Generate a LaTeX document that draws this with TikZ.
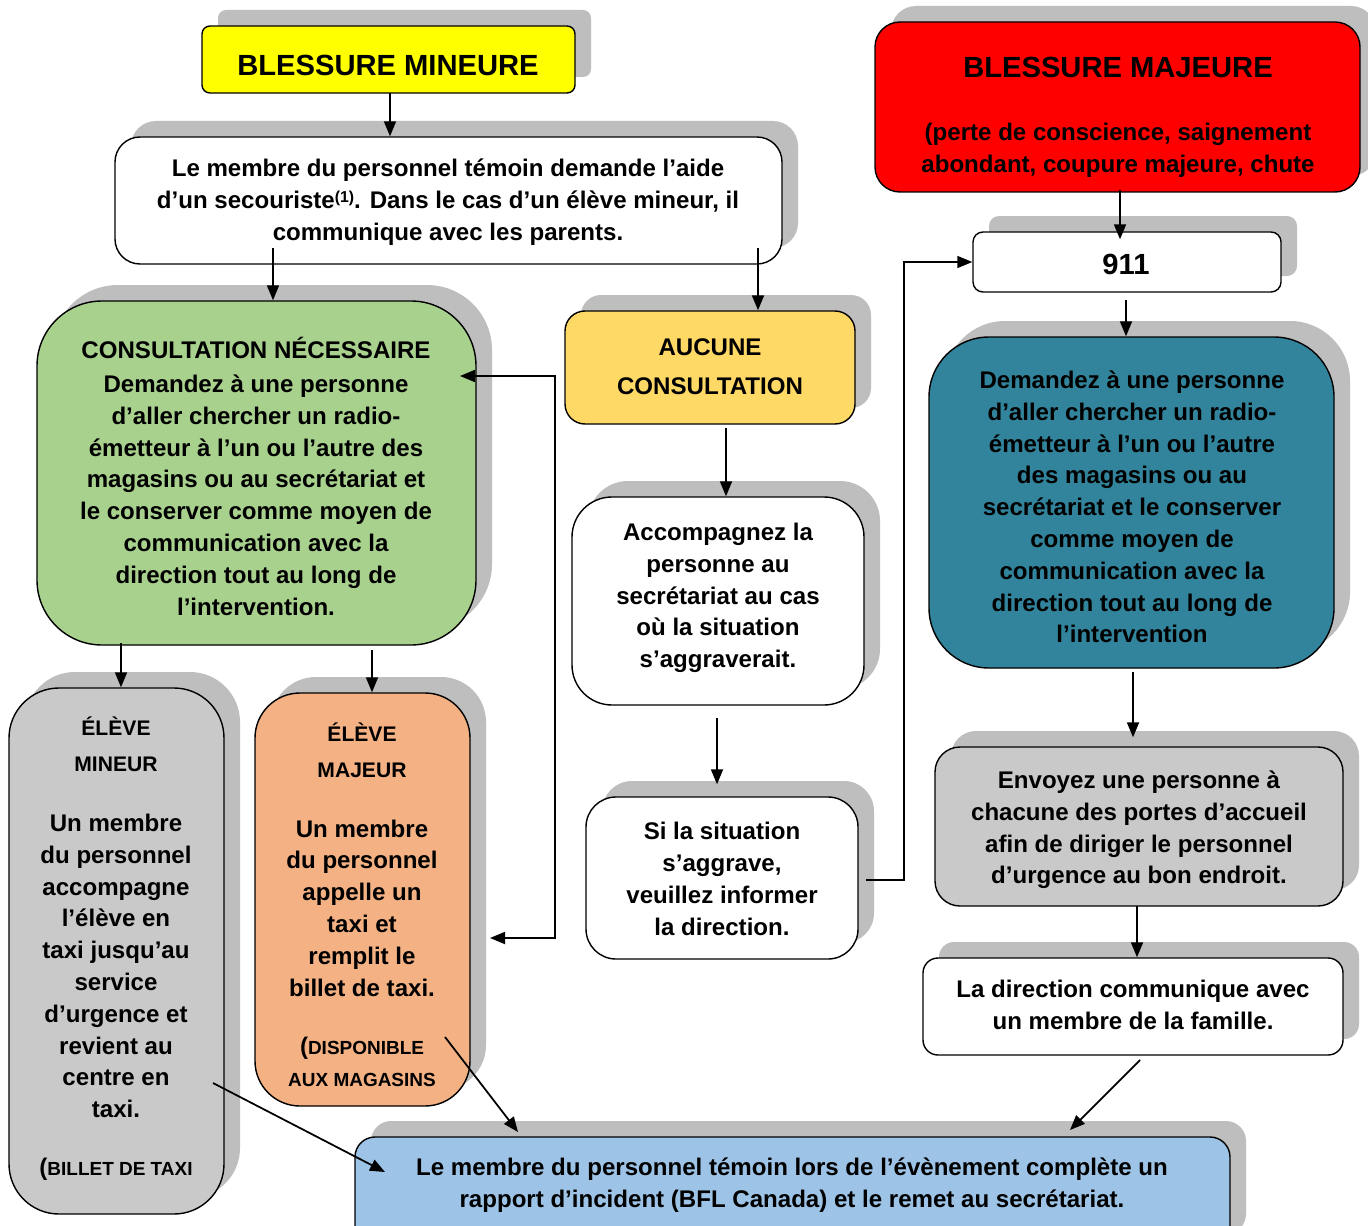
\documentclass[tikz,border=0pt]{standalone}
\usepackage{fontspec}
\setmainfont{Liberation Sans}
\usetikzlibrary{arrows.meta,fit,shadows,calc}
\definecolor{shadowgray}{HTML}{BEBEBE}
\definecolor{boxgray}{HTML}{C9C9C9}
\definecolor{yel}{HTML}{FFFF00}
\definecolor{redbox}{HTML}{FF0000}
\definecolor{greenbox}{HTML}{A9D18E}
\definecolor{goldbox}{HTML}{FFD966}
\definecolor{tealbox}{HTML}{31849B}
\definecolor{orangebox}{HTML}{F4B183}
\definecolor{bluebox}{HTML}{9DC3E6}
\begin{document}
\begin{tikzpicture}[x=0.02cm,y=-0.02cm,
  box/.style={draw=black, line width=0.8pt, inner sep=0pt,
    general shadow={fill=shadowgray, shadow xshift=0.32cm, shadow yshift=0.32cm}},
  t/.style={align=center, inner sep=0pt, font=\bfseries\fontsize{13.7}{18.1}\selectfont},
  tbig/.style={align=center, inner sep=0pt, font=\bfseries\fontsize{16.6}{20}\selectfont},
  tsmall/.style={align=center, inner sep=0pt, font=\bfseries\fontsize{10.8}{18.1}\selectfont},
  thead/.style={align=center, inner sep=0pt, font=\bfseries\fontsize{12}{20.4}\selectfont},
  conn/.style={line width=1pt, -{Triangle[length=0.3cm,width=0.24cm]}},
  conn2/.style={line width=1pt, {Triangle[length=0.3cm,width=0.24cm]}-{Triangle[length=0.3cm,width=0.24cm]}}
]
\useasboundingbox (0,0) rectangle (1368,1226);
\fill[white] (0,0) rectangle (1368,1226);
\clip (0,0) rectangle (1368,1226);

% boxes
\node[box, fill=yel, rounded corners=0.16cm, fit={(202,26) (575,93)}] (mineure) {};
\node[box, fill=white, rounded corners=0.5cm, fit={(115,137) (782,264)}] (temoin) {};
\node[box, fill=redbox, rounded corners=0.5cm, fit={(875,22) (1360,192)}] (majeure) {};
\node[box, fill=white, rounded corners=0.2cm, fit={(973,232) (1281,292)}] (urg) {};
\node[box, fill=greenbox, rounded corners=1.3cm, fit={(37,301) (476,645)}] (consult) {};
\node[box, fill=goldbox, rounded corners=0.4cm, fit={(565,311) (855,424)}] (aucune) {};
\node[box, fill=tealbox, rounded corners=1.2cm, fit={(929,337) (1334,668)}] (teal) {};
\node[box, fill=white, rounded corners=0.8cm, fit={(572,497) (864,705)}] (accomp) {};
\node[box, fill=white, rounded corners=0.6cm, fit={(586,797) (858,959)}] (sila) {};
\node[box, fill=boxgray, rounded corners=0.5cm, fit={(935,747) (1343,906)}] (envoyez) {};
\node[box, fill=white, rounded corners=0.3cm, fit={(923,958) (1343,1055)}] (direction) {};
\node[box, fill=boxgray, rounded corners=1.0cm, fit={(9,688) (224,1214)}] (emineur) {};
\node[box, fill=orangebox, rounded corners=0.9cm, fit={(255,693) (470,1106)}] (emajeur) {};
\node[box, fill=bluebox, rounded corners=0.4cm, fit={(355,1137) (1230,1250)}] (rapport) {};

% texts
\node[tbig] (tmineure) at (388,65) {BLESSURE MINEURE};
\node[t] (ttemoin) at (448,202) {Le membre du personnel témoin demande l’aide\\d’un secouriste\raisebox{0.45ex}{\fontsize{9}{9}\selectfont(1)}. Dans le cas d’un élève mineur, il\\communique avec les parents.};
\node[tbig] (tmajeure) at (1118,67) {BLESSURE MAJEURE};
\node[t] (tmajeure2) at (1118,150) {(perte de conscience, saignement\\abondant, coupure majeure, chute};
\node[tbig] (turg) at (1126,264) {911};
\node[t] (tconsult1) at (256,348) {CONSULTATION NÉCESSAIRE};
\node[t] (tconsult2) at (256,495) {Demandez à une personne\\d’aller chercher un radio-\\émetteur à l’un ou l’autre des\\magasins ou au secrétariat et\\le conserver comme moyen de\\communication avec la\\direction tout au long de\\l’intervention.};
\node[t, font=\bfseries\fontsize{13.7}{22.1}\selectfont] (taucune) at (710,367) {AUCUNE\\CONSULTATION};
\node[t] (tteal) at (1132,507) {Demandez à une personne\\d’aller chercher un radio-\\émetteur à l’un ou l’autre\\des magasins ou au\\secrétariat et le conserver\\comme moyen de\\communication avec la\\direction tout au long de\\l’intervention};
\node[t] (taccomp) at (718,598) {Accompagnez la\\personne au\\secrétariat au cas\\où la situation\\s’aggraverait.};
\node[t] (tsila) at (722,879) {Si la situation\\s’aggrave,\\veuillez informer\\la direction.};
\node[t] (tenvoyez) at (1139,830) {Envoyez une personne à\\chacune des portes d’accueil\\afin de diriger le personnel\\d’urgence au bon endroit.};
\node[t] (tdirection) at (1133,1005) {La direction communique avec\\un membre de la famille.};
\node[t] (trapport) at (792,1185) {Le membre du personnel témoin lors de l’évènement complète un\\rapport d’incident (BFL Canada) et le remet au secrétariat.};
\node[thead] (temineur1) at (116,744) {ÉLÈVE\\MINEUR};
\node[t] (temineur2) at (116,966) {Un membre\\du personnel\\accompagne\\l’élève en\\taxi jusqu’au\\service\\d’urgence et\\revient au\\centre en\\taxi.};
\node[tsmall] (temineur3) at (116,1169) {{\fontsize{13.7}{18.1}\selectfont(}BILLET DE TAXI};
\node[thead] (temajeur1) at (362,750) {ÉLÈVE\\MAJEUR};
\node[t] (temajeur2) at (362,908) {Un membre\\du personnel\\appelle un\\taxi et\\remplit le\\billet de taxi.};
\node[tsmall] (temajeur3) at (362,1062) {{\fontsize{13.7}{18.1}\selectfont(}DISPONIBLE\\AUX MAGASINS};

% connector coordinates
\coordinate (s1) at (390,93);
\coordinate (s2) at (273,248);
\coordinate (s3) at (758,248);
\coordinate (s4) at (1120,190);
\coordinate (s5) at (1126,300);
\coordinate (s6) at (726,428);
\coordinate (s7) at (717,718);
\coordinate (s8) at (866,880);
\coordinate (k8) at (904,880);
\coordinate (b1) at (460,376);
\coordinate (b2) at (555,376);
\coordinate (b3) at (555,938);
\coordinate (b4) at (490,938);
\coordinate (s10) at (121,643);
\coordinate (s11) at (372,650);
\coordinate (s12) at (1133,672);
\coordinate (s13) at (1137,906);
\coordinate (s14) at (1140,1060);
\coordinate (e14) at (1070,1130);
\coordinate (s15) at (213,1083);
\coordinate (e15) at (385,1172);
\coordinate (s16) at (445,1037);
\coordinate (e16) at (518,1132);

% connectors
\draw[conn] (s1) -- (s1 |- temoin.north);
\draw[conn] (s2) -- (s2 |- consult.north);
\draw[conn] (s3) -- (s3 |- aucune.north);
\draw[conn] (s4) -- ($(s4 |- urg.north)+(0,8)$);
\draw[conn] (s5) -- (s5 |- teal.north);
\draw[conn] (s6) -- (s6 |- accomp.north);
\draw[conn] (s7) -- ($(s7 |- sila.north)+(0,-12)$);
\draw[conn] (s8) -- (k8) -- (k8 |- urg.west) -- (urg.west);
\draw[conn2] (b1) -- (b2) -- (b3) -- (b4);
\draw[conn] (s10) -- (s10 |- emineur.north);
\draw[conn] (s11) -- (s11 |- emajeur.north);
\draw[conn] (s12) -- ($(s12 |- envoyez.north)+(0,-9)$);
\draw[conn] (s13) -- (s13 |- direction.north);
\draw[conn] (s14) -- (e14);
\draw[conn] (s15) -- (e15);
\draw[conn] (s16) -- (e16);
\end{tikzpicture}
\end{document}
